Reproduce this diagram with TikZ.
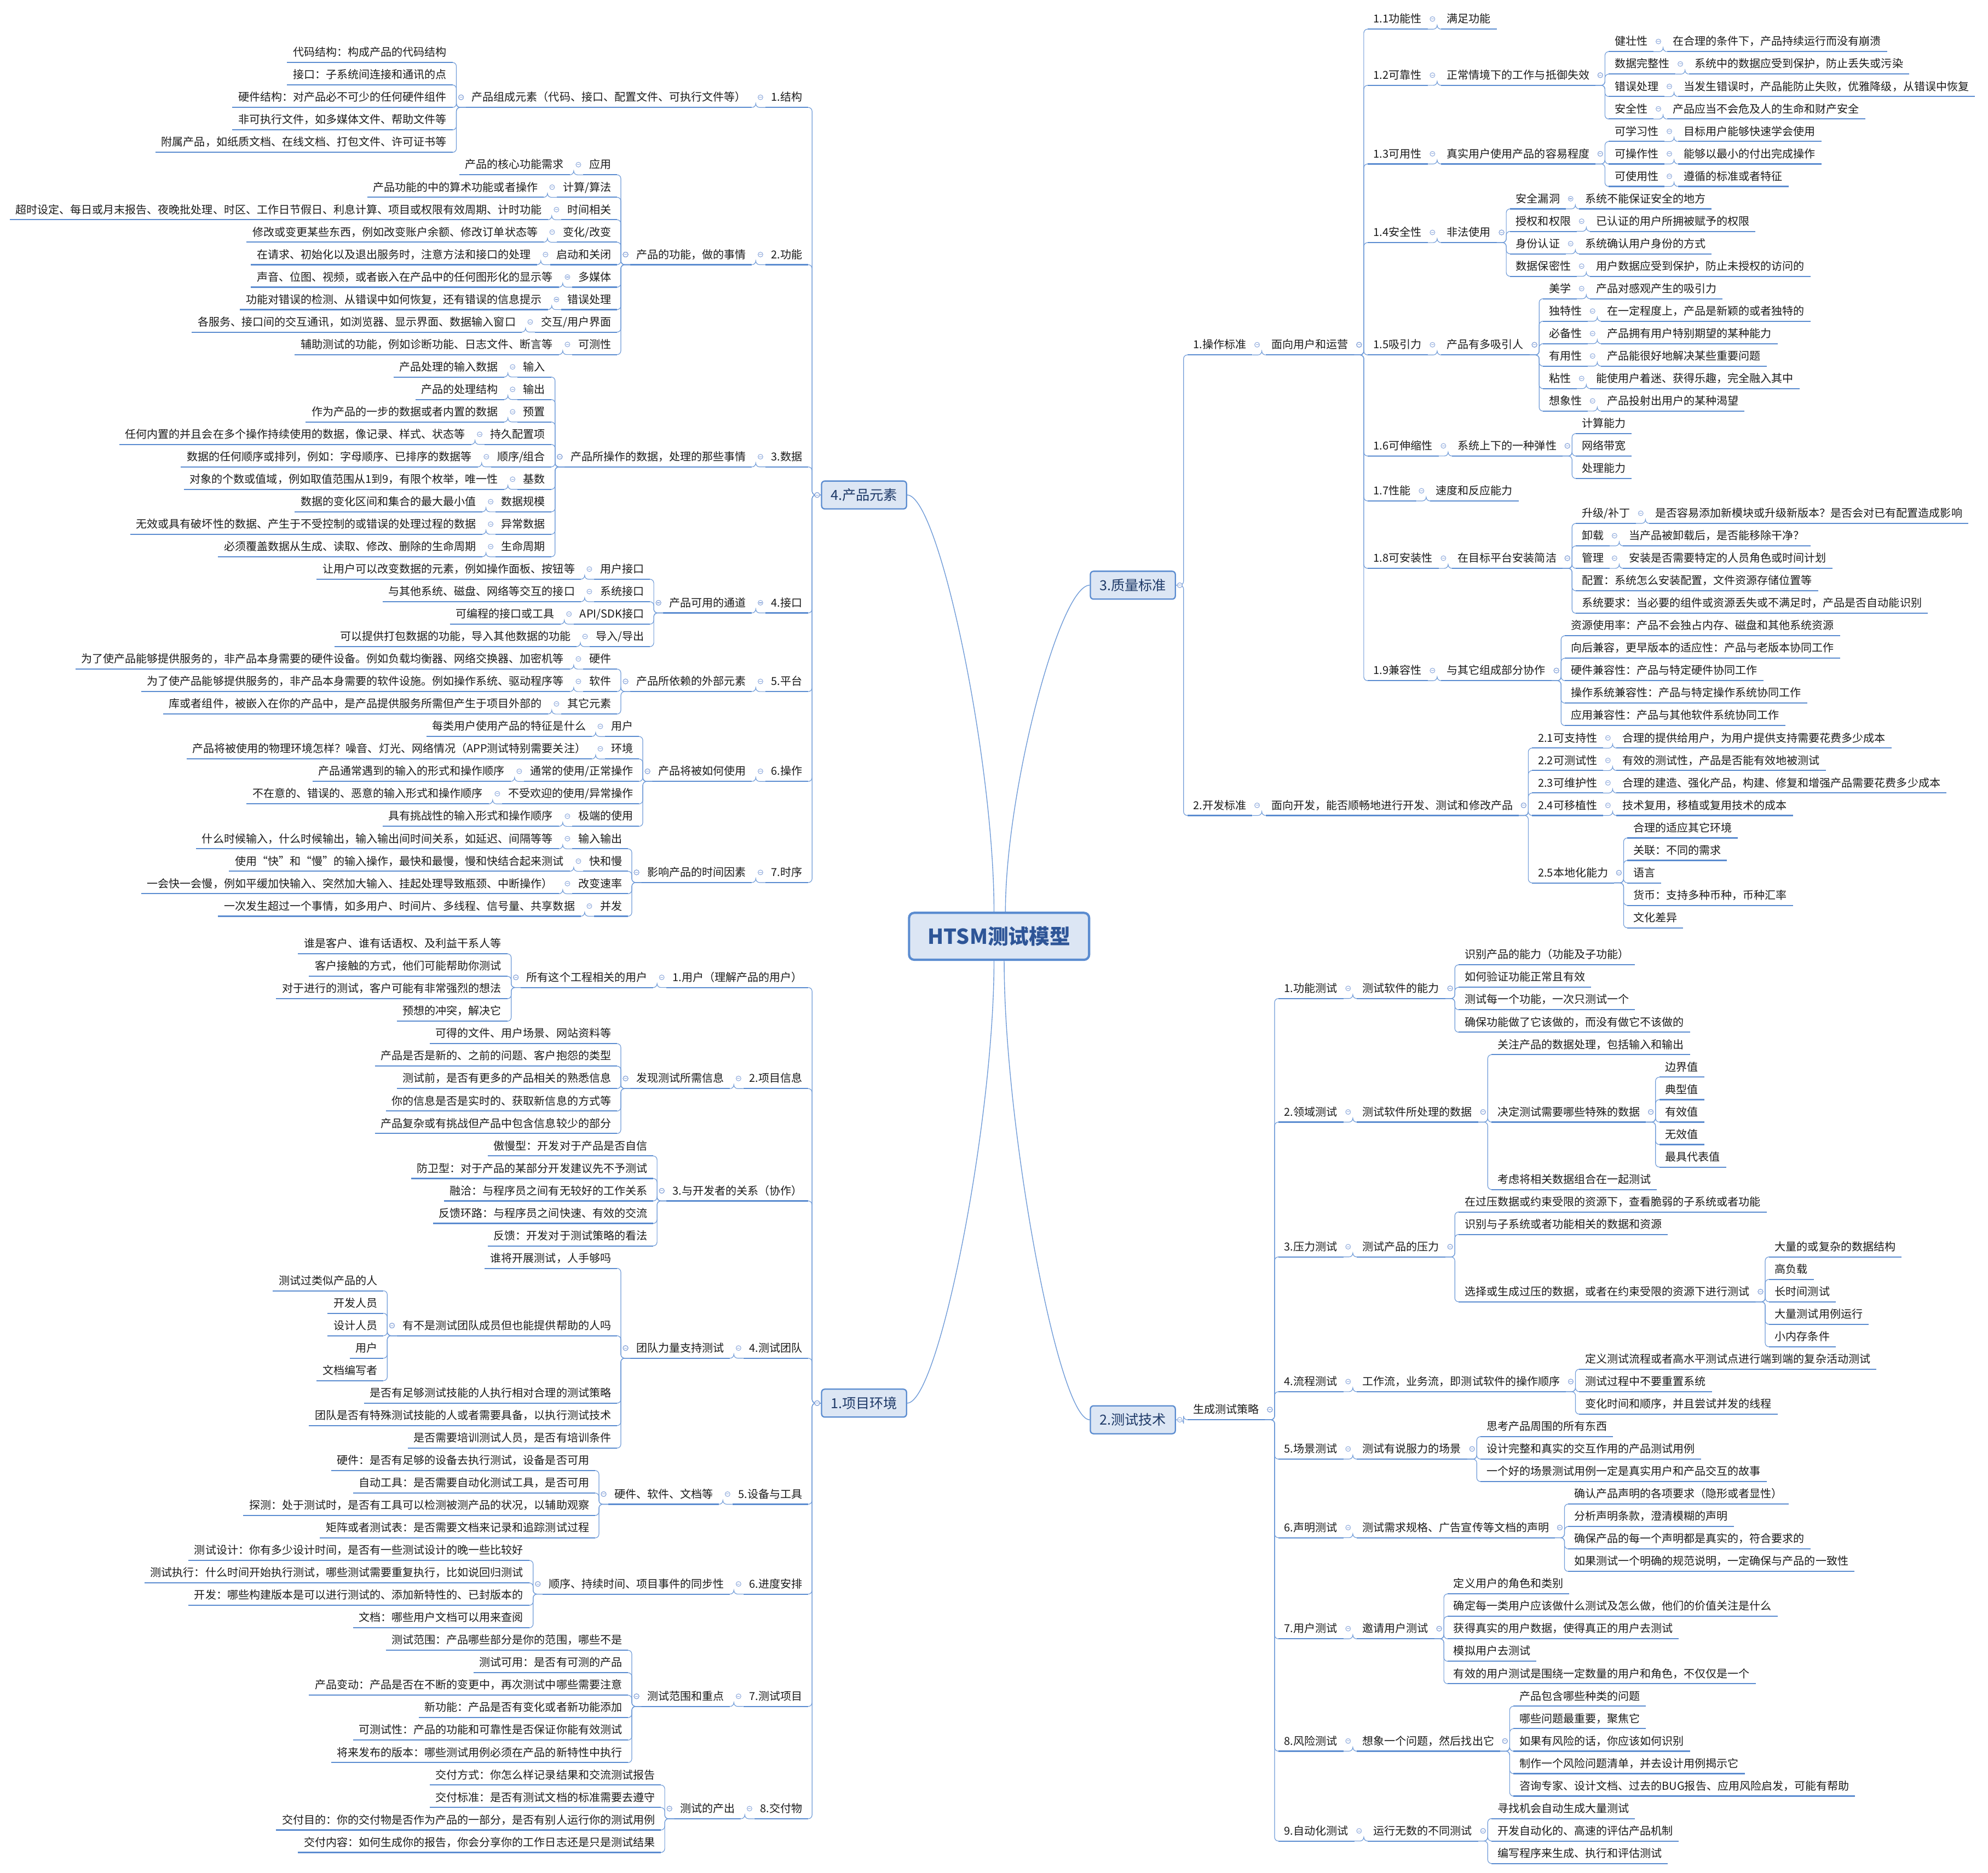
\documentclass[tikz,border=0pt]{standalone}
\usepackage{fontspec}
\setmainfont{Noto Sans CJK SC}
\usetikzlibrary{calc}
\definecolor{ulc}{HTML}{5B8CD0}
\definecolor{cnc}{HTML}{6F9BD8}
\definecolor{mkc}{HTML}{8FAADC}
\definecolor{boxf}{HTML}{DCE6F4}
\definecolor{boxd}{HTML}{5B8CD0}
\definecolor{txt}{HTML}{1A1A1A}
\definecolor{ttl}{HTML}{1F3A68}
\definecolor{ctc}{HTML}{2E5597}
\newcommand\LFont{\fontsize{8.65pt}{10pt}\selectfont}
\newcommand\TFont{\fontsize{10.9pt}{12pt}\selectfont}
\newcommand\CFont{\fontsize{16.3pt}{18pt}\selectfont\bfseries}
\def\RSP{17.72}
\def\YA{49.3}
\def\YB{752.3}
\def\YC{23}
\def\YD{761}
\tikzset{
  ul/.style={draw=ulc, line width=0.9pt},
  lf/.style={font=\LFont, text=txt, inner xsep=4.5pt, inner ysep=0pt, text height=7pt, text depth=4.7pt,
    append after command={(\tikzlastnode.south west) edge[ul] (\tikzlastnode.south east)}},
  cn/.style={draw=cnc, line width=0.5pt, rounded corners=3pt},
  cv/.style={draw=cnc, line width=0.6pt},
  mk/.style={draw=mkc, line width=0.45pt, fill=white},
  topbox/.style={draw=boxd, fill=boxf, line width=1pt, rounded corners=2.5pt, minimum width=67pt, minimum height=22pt, inner sep=0pt, font=\TFont, text=ttl},
  ctrbox/.style={draw=boxd, fill=boxf, line width=1.8pt, rounded corners=4pt, minimum width=142pt, minimum height=37pt, inner sep=0pt, font=\CFont, text=ctc}
}
\newcommand\MK[1]{\path #1 coordinate (tm); \draw[mk] (tm) circle[radius=1.9pt]; \draw[mk] ([xshift=-1.1pt]tm) -- ([xshift=1.1pt]tm);}
% left child of node: name, parent, base, row, text
\newcommand\LN[5]{%
  \path ([xshift=-10.5pt]#2.south west) coordinate (tq);
  \node[lf,anchor=south east] (#1) at (tq |- 0,#3+\RSP*#4) {#5};
  \draw[cn] (#2.south west) -- ++(-7.5,0) |- (#1.south east);
  \MK{([shift={(-3.8,-8)}]#2.south west)}}
\newcommand\RN[5]{%
  \path ([xshift=10.5pt]#2.south east) coordinate (tq);
  \node[lf,anchor=south west] (#1) at (tq |- 0,#3+\RSP*#4) {#5};
  \draw[cn] (#2.south east) -- ++(7.5,0) |- (#1.south west);
  \MK{([shift={(3.8,-8)}]#2.south east)}}
\newcommand\LB[5]{%
  \path ([xshift=-10pt]#2.west) coordinate (tq);
  \node[lf,anchor=south east] (#1) at (tq |- 0,#3+\RSP*#4) {#5};
  \draw[cn] (#2.west) -- ++(-7,0) |- (#1.south east);
  \MK{([xshift=-3pt]#2.west)}}
\newcommand\RB[5]{%
  \path ([xshift=9pt]#2.east) coordinate (tq);
  \node[lf,anchor=south west] (#1) at (tq |- 0,#3+\RSP*#4) {#5};
  \draw[cn] (#2.east) -- ++(6,0) |- (#1.south west);
  \MK{([xshift=3pt]#2.east)}}
\begin{document}
\begin{tikzpicture}[x=1pt,y=-1pt]
\fill[white] (0,0) rectangle (1568,1477);
\useasboundingbox (0,0) rectangle (1568,1477);
% main boxes
\node[ctrbox] (ctr) at (788,738.5) {HTSM测试模型};
\node[topbox] (A) at (681.5,390.41) {4.产品元素};
\node[topbox] (P) at (681.5,1106.7) {1.项目环境};
\node[topbox] (Q) at (893.5,461.57) {3.质量标准};
\node[topbox] (T) at (893.5,1119.83) {2.测试技术};
\draw[cv] (A.east) .. controls +(25,0) and +(0,-120) .. ([xshift=-4pt]ctr.north);
\draw[cv] (Q.west) .. controls +(-24,0) and +(0,-94) .. ([xshift=5pt]ctr.north);
\draw[cv] (P.east) .. controls +(25,0) and +(0,127) .. ([xshift=-4pt]ctr.south);
\draw[cv] (T.west) .. controls +(-25,0) and +(0,130) .. ([xshift=4pt]ctr.south);
% ================= 4.产品元素 =================
\LB{a1}{A}{\YA}{2}{1.结构}
\LN{a1p}{a1}{\YA}{2}{产品组成元素（代码、接口、配置文件、可执行文件等）}
\LN{a1a}{a1p}{\YA}{0}{代码结构：构成产品的代码结构}
\LN{a1b}{a1p}{\YA}{1}{接口：子系统间连接和通讯的点}
\LN{a1c}{a1p}{\YA}{2}{硬件结构：对产品必不可少的任何硬件组件}
\LN{a1d}{a1p}{\YA}{3}{非可执行文件，如多媒体文件、帮助文件等}
\LN{a1e}{a1p}{\YA}{4}{附属产品，如纸质文档、在线文档、打包文件、许可证书等}
\LB{a2}{A}{\YA}{9}{2.功能}
\LN{a2p}{a2}{\YA}{9}{产品的功能，做的事情}
\LN{a2a}{a2p}{\YA}{5}{应用}\LN{a2aa}{a2a}{\YA}{5}{产品的核心功能需求}
\LN{a2b}{a2p}{\YA}{6}{计算/算法}\LN{a2bb}{a2b}{\YA}{6}{产品功能的中的算术功能或者操作}
\LN{a2c}{a2p}{\YA}{7}{时间相关}\LN{a2cc}{a2c}{\YA}{7}{超时设定、每日或月末报告、夜晚批处理、时区、工作日节假日、利息计算、项目或权限有效周期、计时功能}
\LN{a2d}{a2p}{\YA}{8}{变化/改变}\LN{a2dd}{a2d}{\YA}{8}{修改或变更某些东西，例如改变账户余额、修改订单状态等}
\LN{a2e}{a2p}{\YA}{9}{启动和关闭}\LN{a2ee}{a2e}{\YA}{9}{在请求、初始化以及退出服务时，注意方法和接口的处理}
\LN{a2f}{a2p}{\YA}{10}{多媒体}\LN{a2ff}{a2f}{\YA}{10}{声音、位图、视频，或者嵌入在产品中的任何图形化的显示等}
\LN{a2g}{a2p}{\YA}{11}{错误处理}\LN{a2gg}{a2g}{\YA}{11}{功能对错误的检测、从错误中如何恢复，还有错误的信息提示}
\LN{a2h}{a2p}{\YA}{12}{交互/用户界面}\LN{a2hh}{a2h}{\YA}{12}{各服务、接口间的交互通讯，如浏览器、显示界面、数据输入窗口}
\LN{a2i}{a2p}{\YA}{13}{可测性}\LN{a2ii}{a2i}{\YA}{13}{辅助测试的功能，例如诊断功能、日志文件、断言等}
\LB{a3}{A}{\YA}{18}{3.数据}
\LN{a3p}{a3}{\YA}{18}{产品所操作的数据，处理的那些事情}
\LN{a3a}{a3p}{\YA}{14}{输入}\LN{a3aa}{a3a}{\YA}{14}{产品处理的输入数据}
\LN{a3b}{a3p}{\YA}{15}{输出}\LN{a3bb}{a3b}{\YA}{15}{产品的处理结构}
\LN{a3c}{a3p}{\YA}{16}{预置}\LN{a3cc}{a3c}{\YA}{16}{作为产品的一步的数据或者内置的数据}
\LN{a3d}{a3p}{\YA}{17}{持久配置项}\LN{a3dd}{a3d}{\YA}{17}{任何内置的并且会在多个操作持续使用的数据，像记录、样式、状态等}
\LN{a3e}{a3p}{\YA}{18}{顺序/组合}\LN{a3ee}{a3e}{\YA}{18}{数据的任何顺序或排列，例如：字母顺序、已排序的数据等}
\LN{a3f}{a3p}{\YA}{19}{基数}\LN{a3ff}{a3f}{\YA}{19}{对象的个数或值域，例如取值范围从1到9，有限个枚举，唯一性}
\LN{a3g}{a3p}{\YA}{20}{数据规模}\LN{a3gg}{a3g}{\YA}{20}{数据的变化区间和集合的最大最小值}
\LN{a3h}{a3p}{\YA}{21}{异常数据}\LN{a3hh}{a3h}{\YA}{21}{无效或具有破坏性的数据、产生于不受控制的或错误的处理过程的数据}
\LN{a3i}{a3p}{\YA}{22}{生命周期}\LN{a3ii}{a3i}{\YA}{22}{必须覆盖数据从生成、读取、修改、删除的生命周期}
\LB{a4}{A}{\YA}{24.5}{4.接口}
\LN{a4p}{a4}{\YA}{24.5}{产品可用的通道}
\LN{a4a}{a4p}{\YA}{23}{用户接口}\LN{a4aa}{a4a}{\YA}{23}{让用户可以改变数据的元素，例如操作面板、按钮等}
\LN{a4b}{a4p}{\YA}{24}{系统接口}\LN{a4bb}{a4b}{\YA}{24}{与其他系统、磁盘、网络等交互的接口}
\LN{a4c}{a4p}{\YA}{25}{API/SDK接口}\LN{a4cc}{a4c}{\YA}{25}{可编程的接口或工具}
\LN{a4d}{a4p}{\YA}{26}{导入/导出}\LN{a4dd}{a4d}{\YA}{26}{可以提供打包数据的功能，导入其他数据的功能}
\LB{a5}{A}{\YA}{28}{5.平台}
\LN{a5p}{a5}{\YA}{28}{产品所依赖的外部元素}
\LN{a5a}{a5p}{\YA}{27}{硬件}\LN{a5aa}{a5a}{\YA}{27}{为了使产品能够提供服务的，非产品本身需要的硬件设备。例如负载均衡器、网络交换器、加密机等}
\LN{a5b}{a5p}{\YA}{28}{软件}\LN{a5bb}{a5b}{\YA}{28}{为了使产品能够提供服务的，非产品本身需要的软件设施。例如操作系统、驱动程序等}
\LN{a5c}{a5p}{\YA}{29}{其它元素}\LN{a5cc}{a5c}{\YA}{29}{库或者组件，被嵌入在你的产品中，是产品提供服务所需但产生于项目外部的}
\LB{a6}{A}{\YA}{32}{6.操作}
\LN{a6p}{a6}{\YA}{32}{产品将被如何使用}
\LN{a6a}{a6p}{\YA}{30}{用户}\LN{a6aa}{a6a}{\YA}{30}{每类用户使用产品的特征是什么}
\LN{a6b}{a6p}{\YA}{31}{环境}\LN{a6bb}{a6b}{\YA}{31}{产品将被使用的物理环境怎样？噪音、灯光、网络情况（APP测试特别需要关注）}
\LN{a6c}{a6p}{\YA}{32}{通常的使用/正常操作}\LN{a6cc}{a6c}{\YA}{32}{产品通常遇到的输入的形式和操作顺序}
\LN{a6d}{a6p}{\YA}{33}{不受欢迎的使用/异常操作}\LN{a6dd}{a6d}{\YA}{33}{不在意的、错误的、恶意的输入形式和操作顺序}
\LN{a6e}{a6p}{\YA}{34}{极端的使用}\LN{a6ee}{a6e}{\YA}{34}{具有挑战性的输入形式和操作顺序}
\LB{a7}{A}{\YA}{36.5}{7.时序}
\LN{a7p}{a7}{\YA}{36.5}{影响产品的时间因素}
\LN{a7a}{a7p}{\YA}{35}{输入输出}\LN{a7aa}{a7a}{\YA}{35}{什么时候输入，什么时候输出，输入输出间时间关系，如延迟、间隔等等}
\LN{a7b}{a7p}{\YA}{36}{快和慢}\LN{a7bb}{a7b}{\YA}{36}{使用“快”和“慢”的输入操作，最快和最慢，慢和快结合起来测试}
\LN{a7c}{a7p}{\YA}{37}{改变速率}\LN{a7cc}{a7c}{\YA}{37}{一会快一会慢，例如平缓加快输入、突然加大输入、挂起处理导致瓶颈、中断操作）}
\LN{a7d}{a7p}{\YA}{38}{并发}\LN{a7dd}{a7d}{\YA}{38}{一次发生超过一个事情，如多用户、时间片、多线程、信号量、共享数据}
% ================= 1.项目环境 =================
\LB{p1}{P}{\YB}{1.5}{1.用户（理解产品的用户）}
\LN{p1p}{p1}{\YB}{1.5}{所有这个工程相关的用户}
\LN{p1a}{p1p}{\YB}{0}{谁是客户、谁有话语权、及利益干系人等}
\LN{p1b}{p1p}{\YB}{1}{客户接触的方式，他们可能帮助你测试}
\LN{p1c}{p1p}{\YB}{2}{对于进行的测试，客户可能有非常强烈的想法}
\LN{p1d}{p1p}{\YB}{3}{预想的冲突，解决它}
\LB{p2}{P}{\YB}{6}{2.项目信息}
\LN{p2p}{p2}{\YB}{6}{发现测试所需信息}
\LN{p2a}{p2p}{\YB}{4}{可得的文件、用户场景、网站资料等}
\LN{p2b}{p2p}{\YB}{5}{产品是否是新的、之前的问题、客户抱怨的类型}
\LN{p2c}{p2p}{\YB}{6}{测试前，是否有更多的产品相关的熟悉信息}
\LN{p2d}{p2p}{\YB}{7}{你的信息是否是实时的、获取新信息的方式等}
\LN{p2e}{p2p}{\YB}{8}{产品复杂或有挑战但产品中包含信息较少的部分}
\LB{p3}{P}{\YB}{11}{3.与开发者的关系（协作）}
\LN{p3a}{p3}{\YB}{9}{傲慢型：开发对于产品是否自信}
\LN{p3b}{p3}{\YB}{10}{防卫型：对于产品的某部分开发建议先不予测试}
\LN{p3c}{p3}{\YB}{11}{融洽：与程序员之间有无较好的工作关系}
\LN{p3d}{p3}{\YB}{12}{反馈环路：与程序员之间快速、有效的交流}
\LN{p3e}{p3}{\YB}{13}{反馈：开发对于测试策略的看法}
\LB{p4}{P}{\YB}{18}{4.测试团队}
\LN{p4p}{p4}{\YB}{18}{团队力量支持测试}
\LN{p4a}{p4p}{\YB}{14}{谁将开展测试，人手够吗}
\LN{p4b}{p4p}{\YB}{17}{有不是测试团队成员但也能提供帮助的人吗}
\LN{p4b1}{p4b}{\YB}{15}{测试过类似产品的人}
\LN{p4b2}{p4b}{\YB}{16}{开发人员}
\LN{p4b3}{p4b}{\YB}{17}{设计人员}
\LN{p4b4}{p4b}{\YB}{18}{用户}
\LN{p4b5}{p4b}{\YB}{19}{文档编写者}
\LN{p4c}{p4p}{\YB}{20}{是否有足够测试技能的人执行相对合理的测试策略}
\LN{p4d}{p4p}{\YB}{21}{团队是否有特殊测试技能的人或者需要具备，以执行测试技术}
\LN{p4e}{p4p}{\YB}{22}{是否需要培训测试人员，是否有培训条件}
\LB{p5}{P}{\YB}{24.5}{5.设备与工具}
\LN{p5p}{p5}{\YB}{24.5}{硬件、软件、文档等}
\LN{p5a}{p5p}{\YB}{23}{硬件：是否有足够的设备去执行测试，设备是否可用}
\LN{p5b}{p5p}{\YB}{24}{自动工具：是否需要自动化测试工具，是否可用}
\LN{p5c}{p5p}{\YB}{25}{探测：处于测试时，是否有工具可以检测被测产品的状况，以辅助观察}
\LN{p5d}{p5p}{\YB}{26}{矩阵或者测试表：是否需要文档来记录和追踪测试过程}
\LB{p6}{P}{\YB}{28.5}{6.进度安排}
\LN{p6p}{p6}{\YB}{28.5}{顺序、持续时间、项目事件的同步性}
\LN{p6a}{p6p}{\YB}{27}{测试设计：你有多少设计时间，是否有一些测试设计的晚一些比较好}
\LN{p6b}{p6p}{\YB}{28}{测试执行：什么时间开始执行测试，哪些测试需要重复执行，比如说回归测试}
\LN{p6c}{p6p}{\YB}{29}{开发：哪些构建版本是可以进行测试的、添加新特性的、已封版本的}
\LN{p6d}{p6p}{\YB}{30}{文档：哪些用户文档可以用来查阅}
\LB{p7}{P}{\YB}{33.5}{7.测试项目}
\LN{p7p}{p7}{\YB}{33.5}{测试范围和重点}
\LN{p7a}{p7p}{\YB}{31}{测试范围：产品哪些部分是你的范围，哪些不是}
\LN{p7b}{p7p}{\YB}{32}{测试可用：是否有可测的产品}
\LN{p7c}{p7p}{\YB}{33}{产品变动：产品是否在不断的变更中，再次测试中哪些需要注意}
\LN{p7d}{p7p}{\YB}{34}{新功能：产品是否有变化或者新功能添加}
\LN{p7e}{p7p}{\YB}{35}{可测试性：产品的功能和可靠性是否保证你能有效测试}
\LN{p7f}{p7p}{\YB}{36}{将来发布的版本：哪些测试用例必须在产品的新特性中执行}
\LB{p8}{P}{\YB}{38.5}{8.交付物}
\LN{p8p}{p8}{\YB}{38.5}{测试的产出}
\LN{p8a}{p8p}{\YB}{37}{交付方式：你怎么样记录结果和交流测试报告}
\LN{p8b}{p8p}{\YB}{38}{交付标准：是否有测试文档的标准需要去遵守}
\LN{p8c}{p8p}{\YB}{39}{交付目的：你的交付物是否作为产品的一部分，是否有别人运行你的测试用例}
\LN{p8d}{p8p}{\YB}{40}{交付内容：如何生成你的报告，你会分享你的工作日志还是只是测试结果}
% ================= 3.质量标准 =================
\RB{q1}{Q}{\YC}{14.5}{1.操作标准}
\RN{q1p}{q1}{\YC}{14.5}{面向用户和运营}
\RN{q11}{q1p}{\YC}{0}{1.1功能性}\RN{q11a}{q11}{\YC}{0}{满足功能}
\RN{q12}{q1p}{\YC}{2.5}{1.2可靠性}\RN{q12p}{q12}{\YC}{2.5}{正常情境下的工作与抵御失效}
\RN{q12a}{q12p}{\YC}{1}{健壮性}\RN{q12aa}{q12a}{\YC}{1}{在合理的条件下，产品持续运行而没有崩溃}
\RN{q12b}{q12p}{\YC}{2}{数据完整性}\RN{q12bb}{q12b}{\YC}{2}{系统中的数据应受到保护，防止丢失或污染}
\RN{q12c}{q12p}{\YC}{3}{错误处理}\RN{q12cc}{q12c}{\YC}{3}{当发生错误时，产品能防止失败，优雅降级，从错误中恢复}
\RN{q12d}{q12p}{\YC}{4}{安全性}\RN{q12dd}{q12d}{\YC}{4}{产品应当不会危及人的生命和财产安全}
\RN{q13}{q1p}{\YC}{6}{1.3可用性}\RN{q13p}{q13}{\YC}{6}{真实用户使用产品的容易程度}
\RN{q13a}{q13p}{\YC}{5}{可学习性}\RN{q13aa}{q13a}{\YC}{5}{目标用户能够快速学会使用}
\RN{q13b}{q13p}{\YC}{6}{可操作性}\RN{q13bb}{q13b}{\YC}{6}{能够以最小的付出完成操作}
\RN{q13c}{q13p}{\YC}{7}{可使用性}\RN{q13cc}{q13c}{\YC}{7}{遵循的标准或者特征}
\RN{q14}{q1p}{\YC}{9.5}{1.4安全性}\RN{q14p}{q14}{\YC}{9.5}{非法使用}
\RN{q14a}{q14p}{\YC}{8}{安全漏洞}\RN{q14aa}{q14a}{\YC}{8}{系统不能保证安全的地方}
\RN{q14b}{q14p}{\YC}{9}{授权和权限}\RN{q14bb}{q14b}{\YC}{9}{已认证的用户所拥被赋予的权限}
\RN{q14c}{q14p}{\YC}{10}{身份认证}\RN{q14cc}{q14c}{\YC}{10}{系统确认用户身份的方式}
\RN{q14d}{q14p}{\YC}{11}{数据保密性}\RN{q14dd}{q14d}{\YC}{11}{用户数据应受到保护，防止未授权的访问的}
\RN{q15}{q1p}{\YC}{14.5}{1.5吸引力}\RN{q15p}{q15}{\YC}{14.5}{产品有多吸引人}
\RN{q15a}{q15p}{\YC}{12}{美学}\RN{q15aa}{q15a}{\YC}{12}{产品对感观产生的吸引力}
\RN{q15b}{q15p}{\YC}{13}{独特性}\RN{q15bb}{q15b}{\YC}{13}{在一定程度上，产品是新颖的或者独特的}
\RN{q15c}{q15p}{\YC}{14}{必备性}\RN{q15cc}{q15c}{\YC}{14}{产品拥有用户特别期望的某种能力}
\RN{q15d}{q15p}{\YC}{15}{有用性}\RN{q15dd}{q15d}{\YC}{15}{产品能很好地解决某些重要问题}
\RN{q15e}{q15p}{\YC}{16}{粘性}\RN{q15ee}{q15e}{\YC}{16}{能使用户着迷、获得乐趣，完全融入其中}
\RN{q15f}{q15p}{\YC}{17}{想象性}\RN{q15ff}{q15f}{\YC}{17}{产品投射出用户的某种渴望}
\RN{q16}{q1p}{\YC}{19}{1.6可伸缩性}\RN{q16p}{q16}{\YC}{19}{系统上下的一种弹性}
\RN{q16a}{q16p}{\YC}{18}{计算能力}
\RN{q16b}{q16p}{\YC}{19}{网络带宽}
\RN{q16c}{q16p}{\YC}{20}{处理能力}
\RN{q17}{q1p}{\YC}{21}{1.7性能}\RN{q17p}{q17}{\YC}{21}{速度和反应能力}
\RN{q18}{q1p}{\YC}{24}{1.8可安装性}\RN{q18p}{q18}{\YC}{24}{在目标平台安装简洁}
\RN{q18a}{q18p}{\YC}{22}{升级/补丁}\RN{q18aa}{q18a}{\YC}{22}{是否容易添加新模块或升级新版本？是否会对已有配置造成影响}
\RN{q18b}{q18p}{\YC}{23}{卸载}\RN{q18bb}{q18b}{\YC}{23}{当产品被卸载后，是否能移除干净？}
\RN{q18c}{q18p}{\YC}{24}{管理}\RN{q18cc}{q18c}{\YC}{24}{安装是否需要特定的人员角色或时间计划}
\RN{q18d}{q18p}{\YC}{25}{配置：系统怎么安装配置，文件资源存储位置等}
\RN{q18e}{q18p}{\YC}{26}{系统要求：当必要的组件或资源丢失或不满足时，产品是否自动能识别}
\RN{q19}{q1p}{\YC}{29}{1.9兼容性}\RN{q19p}{q19}{\YC}{29}{与其它组成部分协作}
\RN{q19a}{q19p}{\YC}{27}{资源使用率：产品不会独占内存、磁盘和其他系统资源}
\RN{q19b}{q19p}{\YC}{28}{向后兼容，更早版本的适应性：产品与老版本协同工作}
\RN{q19c}{q19p}{\YC}{29}{硬件兼容性：产品与特定硬件协同工作}
\RN{q19d}{q19p}{\YC}{30}{操作系统兼容性：产品与特定操作系统协同工作}
\RN{q19e}{q19p}{\YC}{31}{应用兼容性：产品与其他软件系统协同工作}
\RB{q2}{Q}{\YC}{35}{2.开发标准}
\RN{q2p}{q2}{\YC}{35}{面向开发，能否顺畅地进行开发、测试和修改产品}
\RN{q21}{q2p}{\YC}{32}{2.1可支持性}\RN{q21a}{q21}{\YC}{32}{合理的提供给用户，为用户提供支持需要花费多少成本}
\RN{q22}{q2p}{\YC}{33}{2.2可测试性}\RN{q22a}{q22}{\YC}{33}{有效的测试性，产品是否能有效地被测试}
\RN{q23}{q2p}{\YC}{34}{2.3可维护性}\RN{q23a}{q23}{\YC}{34}{合理的建造、强化产品，构建、修复和增强产品需要花费多少成本}
\RN{q24}{q2p}{\YC}{35}{2.4可移植性}\RN{q24a}{q24}{\YC}{35}{技术复用，移植或复用技术的成本}
\RN{q25}{q2p}{\YC}{38}{2.5本地化能力}
\RN{q25a}{q25}{\YC}{36}{合理的适应其它环境}
\RN{q25b}{q25}{\YC}{37}{关联：不同的需求}
\RN{q25c}{q25}{\YC}{38}{语言}
\RN{q25d}{q25}{\YC}{39}{货币：支持多种币种，币种汇率}
\RN{q25e}{q25}{\YC}{40}{文化差异}
% ================= 2.测试技术 =================
\RB{t0}{T}{\YD}{20.25}{生成测试策略}
\RN{t1}{t0}{\YD}{1.5}{1.功能测试}\RN{t1p}{t1}{\YD}{1.5}{测试软件的能力}
\RN{t1a}{t1p}{\YD}{0}{识别产品的能力（功能及子功能）}
\RN{t1b}{t1p}{\YD}{1}{如何验证功能正常且有效}
\RN{t1c}{t1p}{\YD}{2}{测试每一个功能，一次只测试一个}
\RN{t1d}{t1p}{\YD}{3}{确保功能做了它该做的，而没有做它不该做的}
\RN{t2}{t0}{\YD}{7}{2.领域测试}\RN{t2p}{t2}{\YD}{7}{测试软件所处理的数据}
\RN{t2a}{t2p}{\YD}{4}{关注产品的数据处理，包括输入和输出}
\RN{t2b}{t2p}{\YD}{7}{决定测试需要哪些特殊的数据}
\RN{t2b1}{t2b}{\YD}{5}{边界值}
\RN{t2b2}{t2b}{\YD}{6}{典型值}
\RN{t2b3}{t2b}{\YD}{7}{有效值}
\RN{t2b4}{t2b}{\YD}{8}{无效值}
\RN{t2b5}{t2b}{\YD}{9}{最具代表值}
\RN{t2c}{t2p}{\YD}{10}{考虑将相关数据组合在一起测试}
\RN{t3}{t0}{\YD}{13}{3.压力测试}\RN{t3p}{t3}{\YD}{13}{测试产品的压力}
\RN{t3a}{t3p}{\YD}{11}{在过压数据或约束受限的资源下，查看脆弱的子系统或者功能}
\RN{t3b}{t3p}{\YD}{12}{识别与子系统或者功能相关的数据和资源}
\RN{t3c}{t3p}{\YD}{15}{选择或生成过压的数据，或者在约束受限的资源下进行测试}
\RN{t3c1}{t3c}{\YD}{13}{大量的或复杂的数据结构}
\RN{t3c2}{t3c}{\YD}{14}{高负载}
\RN{t3c3}{t3c}{\YD}{15}{长时间测试}
\RN{t3c4}{t3c}{\YD}{16}{大量测试用例运行}
\RN{t3c5}{t3c}{\YD}{17}{小内存条件}
\RN{t4}{t0}{\YD}{19}{4.流程测试}\RN{t4p}{t4}{\YD}{19}{工作流，业务流，即测试软件的操作顺序}
\RN{t4a}{t4p}{\YD}{18}{定义测试流程或者高水平测试点进行端到端的复杂活动测试}
\RN{t4b}{t4p}{\YD}{19}{测试过程中不要重置系统}
\RN{t4c}{t4p}{\YD}{20}{变化时间和顺序，并且尝试并发的线程}
\RN{t5}{t0}{\YD}{22}{5.场景测试}\RN{t5p}{t5}{\YD}{22}{测试有说服力的场景}
\RN{t5a}{t5p}{\YD}{21}{思考产品周围的所有东西}
\RN{t5b}{t5p}{\YD}{22}{设计完整和真实的交互作用的产品测试用例}
\RN{t5c}{t5p}{\YD}{23}{一个好的场景测试用例一定是真实用户和产品交互的故事}
\RN{t6}{t0}{\YD}{25.5}{6.声明测试}\RN{t6p}{t6}{\YD}{25.5}{测试需求规格、广告宣传等文档的声明}
\RN{t6a}{t6p}{\YD}{24}{确认产品声明的各项要求（隐形或者显性）}
\RN{t6b}{t6p}{\YD}{25}{分析声明条款，澄清模糊的声明}
\RN{t6c}{t6p}{\YD}{26}{确保产品的每一个声明都是真实的，符合要求的}
\RN{t6d}{t6p}{\YD}{27}{如果测试一个明确的规范说明，一定确保与产品的一致性}
\RN{t7}{t0}{\YD}{30}{7.用户测试}\RN{t7p}{t7}{\YD}{30}{邀请用户测试}
\RN{t7a}{t7p}{\YD}{28}{定义用户的角色和类别}
\RN{t7b}{t7p}{\YD}{29}{确定每一类用户应该做什么测试及怎么做，他们的价值关注是什么}
\RN{t7c}{t7p}{\YD}{30}{获得真实的用户数据，使得真正的用户去测试}
\RN{t7d}{t7p}{\YD}{31}{模拟用户去测试}
\RN{t7e}{t7p}{\YD}{32}{有效的用户测试是围绕一定数量的用户和角色，不仅仅是一个}
\RN{t8}{t0}{\YD}{35}{8.风险测试}\RN{t8p}{t8}{\YD}{35}{想象一个问题，然后找出它}
\RN{t8a}{t8p}{\YD}{33}{产品包含哪些种类的问题}
\RN{t8b}{t8p}{\YD}{34}{哪些问题最重要，聚焦它}
\RN{t8c}{t8p}{\YD}{35}{如果有风险的话，你应该如何识别}
\RN{t8d}{t8p}{\YD}{36}{制作一个风险问题清单，并去设计用例揭示它}
\RN{t8e}{t8p}{\YD}{37}{咨询专家、设计文档、过去的BUG报告、应用风险启发，可能有帮助}
\RN{t9}{t0}{\YD}{39}{9.自动化测试}\RN{t9p}{t9}{\YD}{39}{运行无数的不同测试}
\RN{t9a}{t9p}{\YD}{38}{寻找机会自动生成大量测试}
\RN{t9b}{t9p}{\YD}{39}{开发自动化的、高速的评估产品机制}
\RN{t9c}{t9p}{\YD}{40}{编写程序来生成、执行和评估测试}
\end{tikzpicture}
\end{document}
